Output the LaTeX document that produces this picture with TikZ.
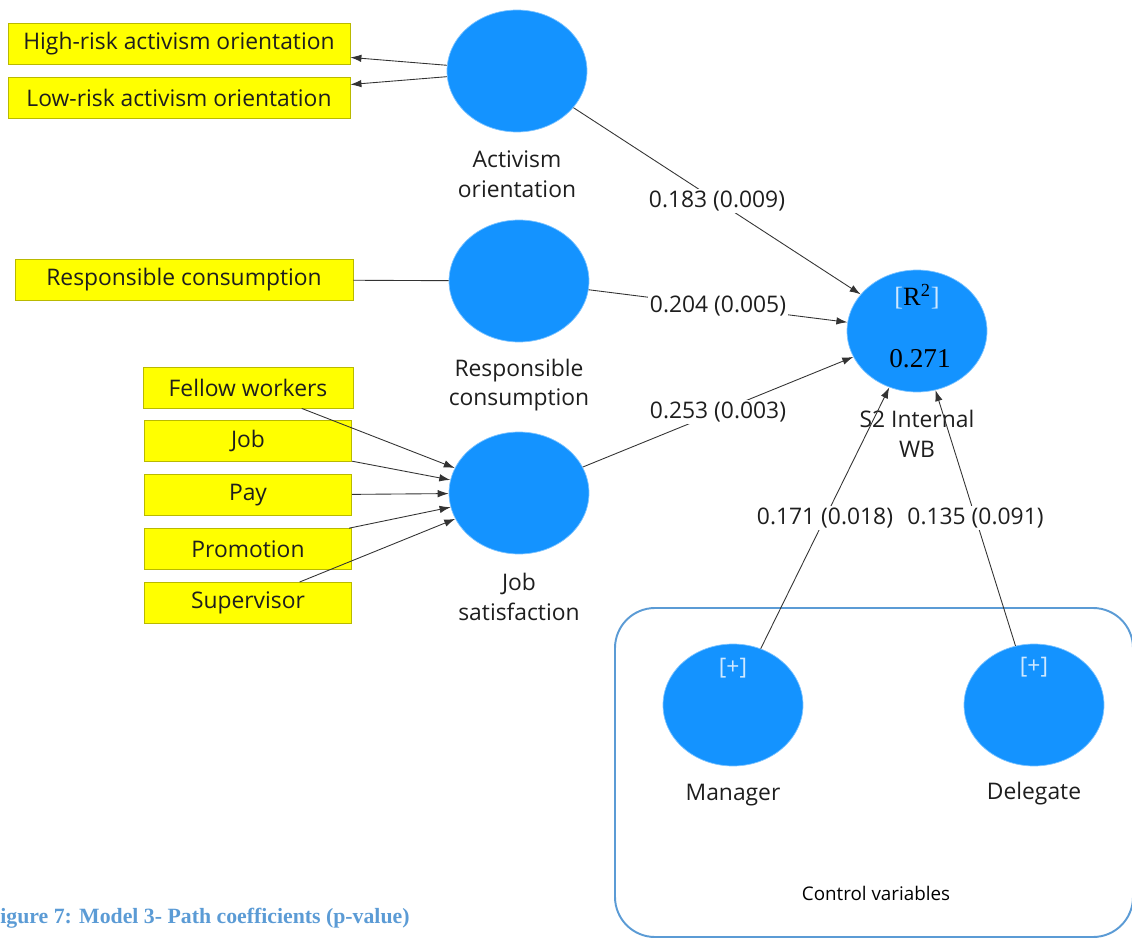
\documentclass[tikz,border=0pt]{standalone}
\usepackage{fontspec}
\setmainfont{Open Sans}
\newfontfamily\numfont{Liberation Serif}
\usetikzlibrary{arrows.meta}
\usetikzlibrary{positioning}
\usetikzlibrary{shapes.geometric}
\definecolor{lvblue}{RGB}{20,147,255}
\definecolor{indyellow}{RGB}{255,255,0}
\definecolor{indedge}{RGB}{185,185,0}
\definecolor{ctrlblue}{RGB}{91,155,213}
\definecolor{inktext}{RGB}{30,30,30}
\tikzset{
  latent/.style={ellipse, fill=lvblue, draw=lvblue!55!white, line width=0.4pt,
    minimum width=2.8cm, minimum height=2.44cm, inner sep=0pt},
  indicator/.style={rectangle, fill=indyellow, draw=indedge, line width=0.5pt,
    minimum height=0.82cm, minimum width=4.15cm, inner sep=0pt,
    font=\fontsize{13}{15}\selectfont, text=inktext},
  lvname/.style={align=center, font=\fontsize{13}{17}\selectfont, text=inktext},
  coef/.style={fill=white, inner sep=1pt, font=\fontsize{13}{15}\selectfont, text=inktext},
  plus/.style={font=\fontsize{13}{15}\selectfont, text=white!80!lvblue},
  path/.style={draw=black!80, line width=0.5pt, -{Latex[length=2.2mm,width=1.5mm]}},
  plain/.style={draw=black!80, line width=0.5pt},
  ctrlbox/.style={draw=ctrlblue, line width=1.1pt, rounded corners=0.8cm}
}
\begin{document}
\begin{tikzpicture}[x=0.02cm, y=-0.02cm]
  \useasboundingbox (0,0) rectangle (1132,939);

  % control variables frame
  \draw[ctrlbox] (615,608) rectangle (1133,937);
  \node[font=\fontsize{10.7}{12}\selectfont, text=black] (ctrl) at (876,893) {Control variables};

  % latent variables
  \node[latent] (act) at (517,71) {};
  \node[latent] (resp) at (519,281) {};
  \node[latent] (js) at (519,493) {};
  \node[latent] (wb) at (917,331) {};
  \node[latent] (mgr) at (733,705) {};
  \node[latent] (dlg) at (1034,705) {};

  \node[lvname] (actname) at (517,174) {Activism\\orientation};
  \node[lvname] (respname) at (519,385) {Responsible\\consumption};
  \node[lvname] (jsname) at (519,597) {Job\\satisfaction};
  \node[lvname] (wbname) at (917,434) {S2 Internal\\WB};
  \node[lvname] (mgrname) at (733,795) {Manager};
  \node[lvname] (dlgname) at (1034,794) {Delegate};

  \node[font=\numfont\fontsize{15}{17}\selectfont] (rsq) at (917,297)
    {{\color{white!80!lvblue}[}R\textsuperscript{2}{\color{white!80!lvblue}]}};
  \node[font=\numfont\fontsize{15.5}{17}\selectfont] (rsqval) at (920,359) {0.271};
  \node[plus] (mgrplus) at (733,668) {[+]};
  \node[plus] (dlgplus) at (1034,667) {[+]};

  % indicators
  \node[indicator, minimum width=6.84cm] (hr) at (179,43.5) {High-risk activism orientation};
  \node[indicator, minimum width=6.84cm, below=0.26cm of hr] (lr) {Low-risk activism orientation};
  \node[indicator, minimum width=6.76cm] (rc) at (184,279.5) {Responsible consumption};
  \node[indicator, minimum width=4.2cm] (fw) at (248,387.5) {Fellow workers};
  \node[indicator, below=0.24cm of fw] (job) {Job};
  \node[indicator, below=0.24cm of job] (pay) {Pay};
  \node[indicator, below=0.24cm of pay] (promo) {Promotion};
  \node[indicator, below=0.24cm of promo] (sup) {Supervisor};

  % measurement paths
  \draw[path] (act) -- (hr);
  \draw[path] (act) -- (lr);
  \draw[plain] (rc) -- (resp);
  \foreach \ind in {fw,job,pay,promo,sup}
    \draw[path] (\ind) -- (js);

  % structural paths
  \draw[path] (act) -- node[coef] {0.183 (0.009)} (wb);
  \draw[path] (resp) -- node[coef] {0.204 (0.005)} (wb);
  \draw[path] (js) -- node[coef] {0.253 (0.003)} (wb);
  \draw[path] (mgr) -- node[coef] {0.171 (0.018)} (wb);
  \draw[path] (dlg) -- node[coef] {0.135 (0.091)} (wb);

  \node[anchor=west, inner sep=0pt, text=ctrlblue,
    font=\numfont\bfseries\fontsize{12.4}{14}\selectfont] (caption) at (0,918)
    {igure 7: Model 3- Path coefficients (p-value)};
\end{tikzpicture}
\end{document}
